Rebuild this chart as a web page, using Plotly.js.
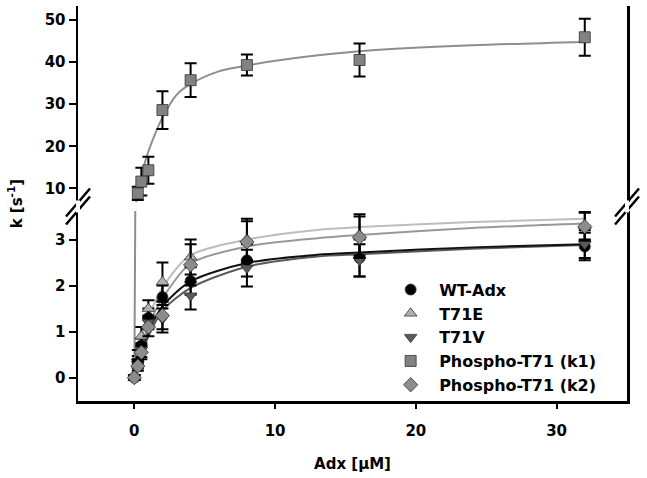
<!DOCTYPE html>
<html>
<head>
<meta charset="utf-8">
<script src="https://cdn.plot.ly/plotly-3.0.1.min.js"></script>
<style>
  html, body { margin: 0; padding: 0; background: #fff; }
  #chart { width: 647px; height: 478px; }
</style>
</head>
<body>
<div id="chart"></div>
<script>
// measured points (Adx concentration in uM)
var adx = [0, 0.25, 0.5, 1, 2, 4, 8, 16, 32];

var wtK   = [0, 0.35, 0.7, 1.3, 1.75, 2.1, 2.55, 2.6, 2.85];
var wtErr = [0.05, 0.12, 0.15, 0.2, 0.25, 0.3, 0.35, 0.4, 0.3];

var t71eK   = [0, 0.45, 0.9, 1.5, 2.08, 2.62, 3.0, 3.1, 3.3];
var t71eErr = [0.05, 0.15, 0.2, 0.18, 0.42, 0.38, 0.45, 0.45, 0.3];

var t71vK   = [0, 0.3, 0.6, 1.2, 1.28, 1.78, 2.38, 2.55, 2.9];
var t71vErr = [0.05, 0.1, 0.15, 0.15, 0.3, 0.3, 0.4, 0.35, 0.3];

var k2K   = [0, 0.25, 0.55, 1.1, 1.35, 2.45, 2.95, 3.05, 3.28];
var k2Err = [0.05, 0.1, 0.15, 0.2, 0.3, 0.45, 0.45, 0.45, 0.3];

var adxK1 = [0.25, 0.5, 1, 2, 4, 8, 16, 32];
var k1K   = [8.8, 11.6, 14.3, 28.6, 35.7, 39.3, 40.5, 45.9];
var k1Err = [1.6, 3.3, 3.2, 4.5, 4.0, 2.5, 3.9, 4.4];

// fitted curves
var fitX   = [0, 0.25, 0.5, 1, 2, 4, 8, 13, 16, 24, 32];
var fitWT  = [0, 0.3, 0.58, 1.0, 1.55, 2.09, 2.49, 2.67, 2.72, 2.83, 2.9];
var fitE   = [0, 0.4, 0.8, 1.3, 1.95, 2.66, 3.0, 3.21, 3.27, 3.38, 3.45];
var fitV   = [0, 0.25, 0.5, 0.9, 1.45, 1.95, 2.41, 2.63, 2.68, 2.8, 2.88];
var fitK2  = [0, 0.33, 0.65, 1.12, 1.72, 2.48, 2.85, 3.03, 3.1, 3.25, 3.35];

var fitK1X = [0, 0.06, 0.12, 0.3, 0.8, 1.5, 2, 3, 4, 6, 8, 12, 16, 24, 32];
var fitK1  = [0, 3, 6.5, 9.6, 16.7, 23.1, 26.8, 32.2, 34.8, 37.8, 39.2, 41.2, 42.6, 44.0, 44.8];

var FONT = 'DejaVu Sans';

function fitLine(x, y, color, yax) {
  return {
    x: x, y: y, yaxis: yax, type: 'scatter', mode: 'lines',
    line: { color: color, width: 2, shape: 'spline', smoothing: 0.8 },
    showlegend: false, hoverinfo: 'skip'
  };
}

function pts(name, x, y, err, symbol, color, yax) {
  return {
    name: name, x: x, y: y, yaxis: yax, type: 'scatter', mode: 'markers',
    marker: { symbol: symbol, size: 11, color: color, line: { color: '#333', width: 0.8 } },
    error_y: { type: 'data', array: err, visible: true, color: '#000', thickness: 2, width: 6 }
  };
}

var data = [
  fitLine(fitX, fitV, '#5a5a5a', 'y'),
  fitLine(fitX, fitWT, '#111111', 'y'),
  fitLine(fitX, fitK2, '#989898', 'y'),
  fitLine(fitX, fitE, '#bdbdbd', 'y'),
  fitLine(fitK1X, fitK1, '#8e8e8e', 'y'),
  fitLine(fitK1X, fitK1, '#8e8e8e', 'y2'),
  pts('WT-Adx', adx, wtK, wtErr, 'circle', '#000000', 'y'),
  pts('T71E', adx, t71eK, t71eErr, 'triangle-up', '#b0b0b0', 'y'),
  pts('T71V', adx, t71vK, t71vErr, 'triangle-down', '#5a5a5a', 'y'),
  pts('Phospho-T71 (k1)', adxK1, k1K, k1Err, 'square', '#828282', 'y2'),
  pts('Phospho-T71 (k2)', adx, k2K, k2Err, 'diamond', '#8c8c8c', 'y')
];

var tickFont = { family: FONT, size: 15, weight: 'bold', color: '#000' };

// break marks on the y axis
var breaks = [];
[0, 1].forEach(function (px) {
  [-4, 4].forEach(function (off) {
    breaks.push({
      type: 'line', xref: 'paper', yref: 'paper',
      xsizemode: 'pixel', ysizemode: 'pixel', xanchor: px, yanchor: 0.4925,
      x0: -12, x1: 12, y0: off - 14, y1: off + 14,
      line: { color: '#000', width: 2.5 }
    });
  });
  breaks.push({
    type: 'line', xref: 'paper', yref: 'paper',
    xsizemode: 'pixel', ysizemode: 'pixel', xanchor: px, yanchor: 0.4925,
    x0: 0, x1: 0, y0: -6, y1: 6,
    line: { color: '#fff', width: 4 }
  });
});

var layout = {
  width: 647,
  height: 478,
  margin: { l: 78, r: 20, t: 6, b: 77 },
  paper_bgcolor: '#fff',
  plot_bgcolor: '#fff',
  font: { family: FONT, color: '#000' },
  showlegend: true,
  legend: {
    x: 0.554, y: 0.325, xanchor: 'left', yanchor: 'top',
    bgcolor: 'rgba(0,0,0,0)',
    itemwidth: 47,
    font: { family: FONT, size: 16, weight: 'bold', color: '#000' },
    tracegroupgap: 0
  },
  xaxis: {
    range: [-4, 35], tickvals: [0, 10, 20, 30],
    showgrid: false, zeroline: false,
    showline: true, linecolor: '#000', linewidth: 2.5,
    ticks: 'outside', ticklen: 5, tickwidth: 2, tickcolor: '#000',
    ticklabelstandoff: 9,
    tickfont: tickFont,
    title: { text: 'Adx [µM]', font: { family: FONT, size: 15, weight: 'bold' }, standoff: 20 },
    anchor: 'y'
  },
  xaxis2: {
    matches: 'x', anchor: 'y2', side: 'top', overlaying: 'x',
    showgrid: false, zeroline: false, showticklabels: false, ticks: '',
    showline: true, linecolor: '#000', linewidth: 2.5
  },
  yaxis: {
    domain: [0, 0.481], range: [-0.507, 3.62], tickvals: [0, 1, 2, 3],
    showgrid: false, zeroline: false,
    showline: true, mirror: true, linecolor: '#000', linewidth: 2.5,
    ticks: 'outside', ticklen: 7, tickwidth: 2, tickcolor: '#000',
    tickfont: tickFont
  },
  yaxis2: {
    domain: [0.504, 1], range: [6.77, 53.33], tickvals: [10, 20, 30, 40, 50],
    showgrid: false, zeroline: false,
    showline: true, mirror: true, linecolor: '#000', linewidth: 2.5,
    ticks: 'outside', ticklen: 7, tickwidth: 2, tickcolor: '#000',
    tickfont: tickFont, anchor: 'x'
  },
  annotations: [{
    text: 'k [s<sup>-1</sup>]', xref: 'paper', yref: 'paper',
    x: -0.115, y: 0.5, xanchor: 'center', yanchor: 'middle',
    textangle: -90, showarrow: false,
    font: { family: FONT, size: 15, weight: 'bold', color: '#000' }
  }],
  shapes: breaks
};

Plotly.newPlot('chart', data, layout, { displayModeBar: false, staticPlot: true });
</script>
</body>
</html>
